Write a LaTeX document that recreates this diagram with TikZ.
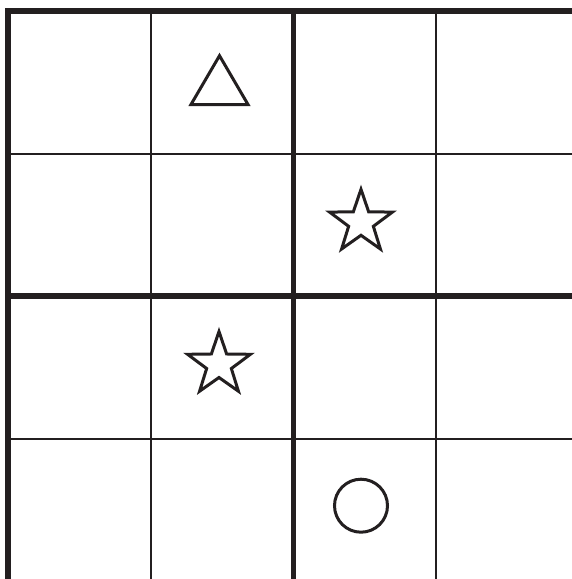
\documentclass[tikz,border=0pt]{standalone}
\definecolor{ink}{HTML}{231F20}
\tikzset{
  thin grid/.style={draw=ink, line width=1.3pt},
  thick grid/.style={draw=ink, line width=5.5pt},
  symbol/.style={draw=ink, line width=3pt, miter limit=10},
}
\begin{document}
\begin{tikzpicture}[x=1pt,y=-1pt]
\useasboundingbox (0,0) rectangle (572,579);
\fill[white] (0,0) rectangle (572,579);
% thin lines
\draw[thin grid] (151,11) -- (151,585);
\draw[thin grid] (436,11) -- (436,585);
\draw[thin grid] (8,154) -- (580,154);
\draw[thin grid] (8,439) -- (580,439);
% thick lines
\draw[thick grid] (293.5,11) -- (293.5,585);
\draw[thick grid] (8,296) -- (580,296);
\draw[thick grid, line cap=rect] (8,585) -- (8,11) -- (580,11);
% triangle
\draw[symbol] (219.5,55.7) -- (248,104.5) -- (191,104.5) -- cycle;
% stars
\foreach \cx/\cy in {361/222.3, 219/364.5}{
  \draw[symbol] ({\cx+33*cos(90)},{\cy-33*sin(90)})
    -- ({\cx+13*cos(126)},{\cy-13*sin(126)})
    -- ({\cx+33*cos(162)},{\cy-33*sin(162)})
    -- ({\cx+13*cos(198)},{\cy-13*sin(198)})
    -- ({\cx+33*cos(234)},{\cy-33*sin(234)})
    -- ({\cx+13*cos(270)},{\cy-13*sin(270)})
    -- ({\cx+33*cos(306)},{\cy-33*sin(306)})
    -- ({\cx+13*cos(342)},{\cy-13*sin(342)})
    -- ({\cx+33*cos(18)},{\cy-33*sin(18)})
    -- ({\cx+13*cos(54)},{\cy-13*sin(54)})
    -- cycle;
}
% circle
\draw[symbol] (361,505.7) circle (26.5);
\end{tikzpicture}
\end{document}
